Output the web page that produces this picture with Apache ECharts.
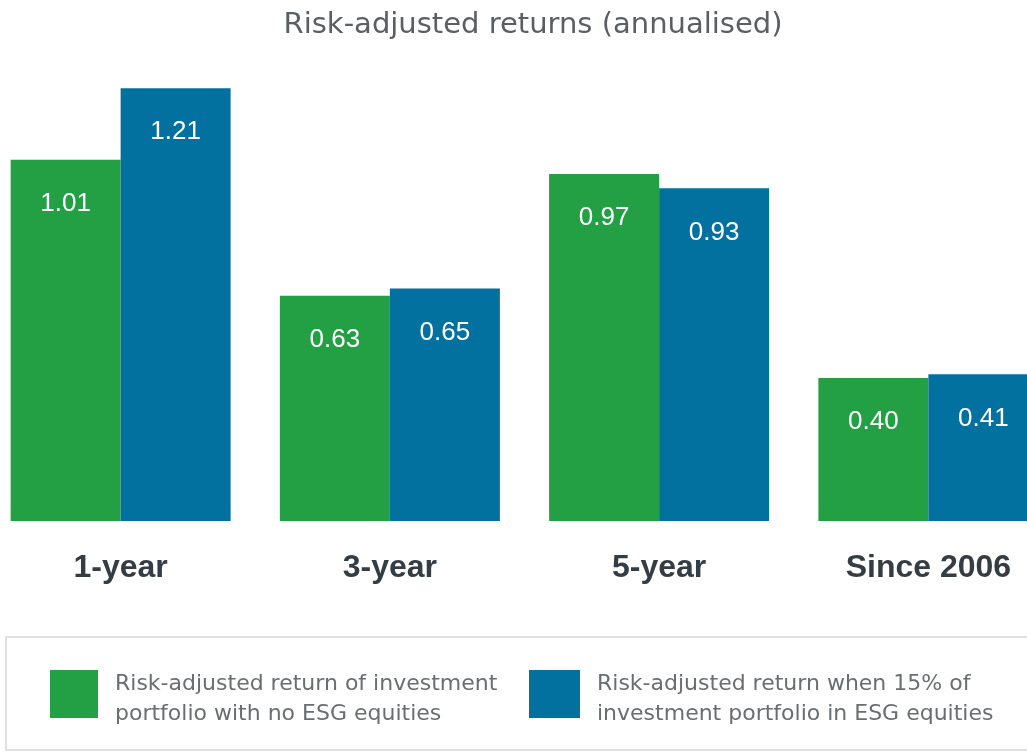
<!DOCTYPE html>
<html>
<head>
<meta charset="utf-8">
<script src="https://cdn.jsdelivr.net/npm/echarts@6/dist/echarts.min.js"></script>
<style>
html,body{margin:0;padding:0;background:#fff;}
#chart{width:1027px;height:753px;}
</style>
</head>
<body>
<div id="chart"></div>
<script>
var titleText = 'Risk-adjusted returns (annualised)';
var categories = ['1-year', '3-year', '5-year', 'Since 2006'];
var seriesNames = [
  'Risk-adjusted return of investment portfolio with no ESG equities',
  'Risk-adjusted return when 15% of investment portfolio in ESG equities'
];
var legendLines = {};
legendLines[seriesNames[0]] = ['Risk-adjusted return of investment', 'portfolio with no ESG equities'];
legendLines[seriesNames[1]] = ['Risk-adjusted return when 15% of', 'investment portfolio in ESG equities'];
var noEsgValues = [1.01, 0.63, 0.97, 0.40];
var esgValues = [1.21, 0.65, 0.93, 0.41];

var GREEN = '#22a043';
var BLUE = '#02719f';
var FONT = '"Liberation Sans", Arial, Helvetica, sans-serif';
var WIDE_FONT = '"DejaVu Sans", "Liberation Sans", sans-serif';

var chart = echarts.init(document.getElementById('chart'), null, {renderer: 'canvas'});

var labelCfg = {
  show: true,
  position: 'insideTop',
  distance: 31,
  color: '#ffffff',
  fontSize: 26,
  fontFamily: FONT,
  formatter: function (p) { return p.value.toFixed(2); }
};

function legendFmt(name) {
  return '{s|}\n{t|' + legendLines[name][0] + '}\n{t|' + legendLines[name][1] + '}';
}
var legendText = {
  color: '#6b6e70',
  fontSize: 22,
  fontFamily: WIDE_FONT,
  padding: [0, 0, 0, 12],
  rich: {
    s: {height: 10, lineHeight: 10, fontSize: 10},
    t: {color: '#6b6e70', fontSize: 22, fontFamily: WIDE_FONT, lineHeight: 30, height: 30}
  }
};

chart.setOption({
  animation: false,
  backgroundColor: '#ffffff',
  title: {
    text: titleText,
    left: 533,
    textAlign: 'center',
    top: 11,
    padding: 0,
    textStyle: {color: '#5a5f63', fontSize: 29, fontWeight: 'normal', fontFamily: WIDE_FONT}
  },
  graphic: [{
    type: 'rect',
    shape: {x: 6, y: 637, width: 1040, height: 113},
    style: {fill: 'none', stroke: '#d5d8d8', lineWidth: 1.5},
    silent: true
  }],
  legend: [{
    data: [seriesNames[0]],
    left: 50, top: 659,
    padding: 0,
    itemWidth: 48, itemHeight: 48,
    icon: 'rect',
    formatter: legendFmt,
    textStyle: legendText,
    selectedMode: false
  }, {
    data: [seriesNames[1]],
    left: 529, top: 659,
    padding: 0,
    itemWidth: 51, itemHeight: 48,
    icon: 'rect',
    formatter: legendFmt,
    textStyle: legendText,
    selectedMode: false
  }],
  grid: {left: -14, right: -36, top: 56, bottom: 232, containLabel: false, outerBoundsMode: 'none'},
  xAxis: {
    type: 'category',
    data: categories,
    axisLine: {show: false},
    axisTick: {show: false},
    axisLabel: {color: '#343c44', fontSize: 32, fontWeight: 'bold', fontFamily: FONT, margin: 31}
  },
  yAxis: {
    type: 'value',
    min: 0, max: 1.3,
    show: false,
    splitLine: {show: false}
  },
  series: [{
    name: seriesNames[0],
    type: 'bar',
    data: noEsgValues,
    barWidth: 110,
    barGap: '0%',
    itemStyle: {color: GREEN},
    label: labelCfg
  }, {
    name: seriesNames[1],
    type: 'bar',
    data: esgValues,
    barWidth: 110,
    barGap: '0%',
    itemStyle: {color: BLUE},
    label: labelCfg
  }]
});
</script>
</body>
</html>
